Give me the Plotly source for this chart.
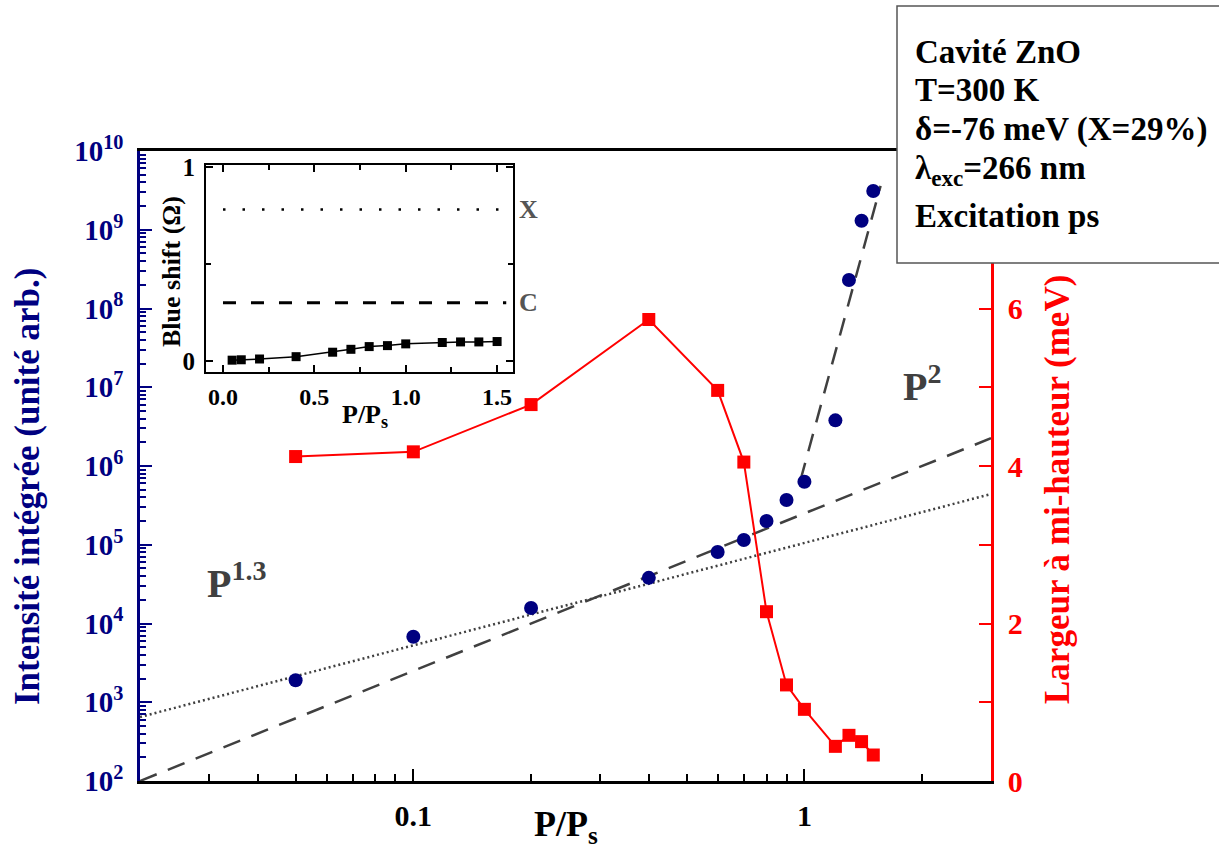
import math
import plotly.graph_objects as go

# ---------------- data ----------------
p_ratio = [0.05, 0.1, 0.2, 0.4, 0.6, 0.7, 0.8, 0.9, 1.0, 1.2, 1.3, 1.4, 1.5]
intensity = [1.9e3, 6.8e3, 1.57e4, 3.8e4, 8.1e4, 1.15e5, 2.0e5, 3.7e5, 6.3e5,
             3.8e6, 2.3e8, 1.3e9, 3.1e9]
fwhm_meV = [4.12, 4.18, 4.78, 5.86, 4.96, 4.05, 2.15, 1.22, 0.91, 0.44, 0.58, 0.50, 0.33]
blue_shift = [0.004, 0.006, 0.01, 0.022, 0.045, 0.06, 0.074, 0.079, 0.088,
              0.095, 0.098, 0.098, 0.1]

# guide lines (power laws) endpoints
fit_p2_x = [0.02, 3.0]
fit_p2_y = [1.0e2, 2.25e6]
fit_p13_x = [0.02, 3.0]
fit_p13_y = [6.5e2, 4.4e5]
fit_thr_x = [0.977, 1.566]
fit_thr_y = [6.6e5, 3.6e9]

# inset reference levels
level_x = [0.0, 1.55]
exciton_level = [0.78, 0.78]
cavity_level = [0.30, 0.30]

# tick labels
y_decades = [2, 3, 4, 5, 6, 7, 8, 9, 10]
x_major = [0.1, 1]
x_major_text = ["0.1", "1"]
y2_major = [0, 2, 4, 6]
y2_minor = [1, 3, 5, 7]

FONT = "Liberation Serif"
NAVY = "#000080"
RED = "#ff0000"
GRAY = "#404040"

fig = go.Figure()

# guide lines
fig.add_trace(go.Scatter(x=fit_p13_x, y=fit_p13_y, mode="lines",
                         line=dict(color=GRAY, width=2.5, dash="2px,3px"),
                         xaxis="x", yaxis="y", showlegend=False))
fig.add_trace(go.Scatter(x=fit_p2_x, y=fit_p2_y, mode="lines",
                         line=dict(color=GRAY, width=2.5, dash="18px,12px"),
                         xaxis="x", yaxis="y", showlegend=False))
fig.add_trace(go.Scatter(x=fit_thr_x, y=fit_thr_y, mode="lines",
                         line=dict(color=GRAY, width=2.5, dash="18px,12px"),
                         xaxis="x", yaxis="y", showlegend=False))
# intensity
fig.add_trace(go.Scatter(x=p_ratio, y=intensity, mode="markers",
                         marker=dict(color=NAVY, size=14, symbol="circle"),
                         xaxis="x", yaxis="y", showlegend=False))
# FWHM
fig.add_trace(go.Scatter(x=p_ratio, y=fwhm_meV, mode="lines+markers",
                         line=dict(color=RED, width=2),
                         marker=dict(color=RED, size=13, symbol="square"),
                         xaxis="x", yaxis="y2", showlegend=False))

# inset
fig.add_trace(go.Scatter(x=level_x, y=exciton_level, mode="lines",
                         line=dict(color="black", width=2.5, dash="2.5px,17px"),
                         xaxis="x3", yaxis="y3", showlegend=False))
fig.add_trace(go.Scatter(x=level_x, y=cavity_level, mode="lines",
                         line=dict(color="black", width=3, dash="13px,15px"),
                         xaxis="x3", yaxis="y3", showlegend=False))
fig.add_trace(go.Scatter(x=p_ratio, y=blue_shift, mode="lines+markers",
                         line=dict(color="black", width=1.5),
                         marker=dict(color="black", size=9, symbol="square"),
                         xaxis="x3", yaxis="y3", showlegend=False))

W, H = 1219, 856
L, R, T, B = 140, 991, 151, 781


def px(xp):
    return (xp - L) / (R - L)


def py(yp):
    return (B - yp) / (B - T)


def log_minor(lo, hi):
    vals = []
    for d in range(lo, hi):
        for k in range(2, 10):
            vals.append(k * 10 ** d)
    return vals


x_minor = [v for v in log_minor(-2, 1) if 0.02 < v < 3.0] + [3.0]

fig.update_layout(
    width=W, height=H,
    margin=dict(l=L, r=W - R, t=T, b=H - B, autoexpand=False),
    paper_bgcolor="white", plot_bgcolor="white",
    font=dict(family=FONT, size=28, color="black", weight="bold"),
    showlegend=False,
    xaxis=dict(
        type="log", range=[math.log10(0.02), math.log10(3.0)], automargin=False,
        tickmode="array", tickvals=x_major, ticktext=x_major_text,
        ticks="inside", ticklen=12, tickwidth=2, tickcolor="black",
        showline=True, linecolor="black", linewidth=2.5, mirror=True,
        showgrid=False, zeroline=False,
        tickfont=dict(family=FONT, size=30, color="black", weight="bold"),
        ticklabelstandoff=6,
        minor=dict(tickmode="array", tickvals=x_minor, ticks="inside",
                   ticklen=7, tickwidth=2, tickcolor="black", showgrid=False),
    ),
    yaxis=dict(
        type="log", range=[2, 10], automargin=False,
        tickmode="array", tickvals=[10 ** d for d in y_decades],
        ticktext=["10<sup>%d</sup>" % d for d in y_decades],
        ticks="inside", ticklen=12, tickwidth=2, tickcolor=NAVY,
        showline=True, linecolor=NAVY, linewidth=2.5, mirror=False,
        showgrid=False, zeroline=False,
        tickfont=dict(family=FONT, size=29, color=NAVY, weight="bold"),
        ticklabelstandoff=8,
        minor=dict(tickmode="array", tickvals=log_minor(2, 10), ticks="inside",
                   ticklen=6, tickwidth=1.5, tickcolor=NAVY, showgrid=False),
    ),
    yaxis2=dict(
        overlaying="y", side="right", anchor="x", range=[0, 8], automargin=False,
        tickmode="array", tickvals=y2_major, ticktext=[str(v) for v in y2_major],
        ticks="inside", ticklen=12, tickwidth=2, tickcolor=RED,
        showline=True, linecolor=RED, linewidth=2.5,
        showgrid=False, zeroline=False,
        tickfont=dict(family=FONT, size=30, color=RED, weight="bold"),
        ticklabelstandoff=8,
        minor=dict(tickmode="array", tickvals=y2_minor, ticks="inside",
                   ticklen=12, tickwidth=2, tickcolor=RED, showgrid=False),
    ),
    xaxis3=dict(
        domain=[px(206), px(513)], anchor="y3", range=[-0.093, 1.587], automargin=False,
        tickmode="array", tickvals=[0, 0.5, 1.0, 1.5],
        ticktext=["0.0", "0.5", "1.0", "1.5"],
        ticks="inside", ticklen=7, tickwidth=1.5, tickcolor="black",
        showline=True, linecolor="black", linewidth=2, mirror="allticks",
        showgrid=False, zeroline=False,
        tickfont=dict(family=FONT, size=24, color="black", weight="bold"),
        ticklabelstandoff=2,
        minor=dict(tickmode="array", tickvals=[0.25, 0.75, 1.25], ticks="inside",
                   ticklen=5, tickwidth=1.5, tickcolor="black", showgrid=False),
    ),
    yaxis3=dict(
        domain=[py(372), py(165)], anchor="x3", range=[-0.057, 1.01], automargin=False,
        tickmode="array", tickvals=[0, 1], ticktext=["0", "1"],
        ticks="inside", ticklen=7, tickwidth=1.5, tickcolor="black",
        showline=True, linecolor="black", linewidth=2, mirror="allticks",
        showgrid=False, zeroline=False,
        tickfont=dict(family=FONT, size=25, color="black", weight="bold"),
        ticklabelstandoff=4,
        minor=dict(tickmode="array", tickvals=[0.5], ticks="inside",
                   ticklen=5, tickwidth=1.5, tickcolor="black", showgrid=False),
    ),
)

# info box
fig.add_shape(type="rect", xref="paper", yref="paper",
              x0=px(897), x1=px(1230), y0=py(263), y1=py(6),
              fillcolor="white", line=dict(color="#555555", width=1.5),
              layer="above")

box_lines = ["Cavité ZnO", "T=300 K", "δ=-76 meV (X=29%)",
             "λ<sub>exc</sub>=266 nm", "Excitation ps"]
box_centers = [52, 90, 130, 170, 216]
for txt, yc in zip(box_lines, box_centers):
    fig.add_annotation(text=txt, xref="paper", yref="paper",
                       x=px(913), y=py(yc), xanchor="left", yanchor="middle",
                       showarrow=False,
                       font=dict(family=FONT, size=33, color="black", weight="bold"))

# axis titles
fig.add_annotation(text="Intensité intégrée (unité arb.)", xref="paper", yref="paper",
                   x=px(27), y=py(487), textangle=-90, showarrow=False,
                   xanchor="center", yanchor="middle",
                   font=dict(family=FONT, size=35, color=NAVY, weight="bold"))
fig.add_annotation(text="Largeur à mi-hauteur (meV)", xref="paper", yref="paper",
                   x=px(1057), y=py(490), textangle=-90, showarrow=False,
                   xanchor="center", yanchor="middle",
                   font=dict(family=FONT, size=35, color=RED, weight="bold"))
fig.add_annotation(text="P/P<sub>s</sub>", xref="paper", yref="paper",
                   x=px(566), y=py(826), showarrow=False,
                   xanchor="center", yanchor="middle",
                   font=dict(family=FONT, size=36, color="black", weight="bold"))

# power-law labels
fig.add_annotation(text="P<sup>1.3</sup>", xref="x", yref="y",
                   x=math.log10(0.0352), y=4.55, showarrow=False,
                   font=dict(family=FONT, size=40, color=GRAY, weight="bold"))
fig.add_annotation(text="P<sup>2</sup>", xref="x", yref="y",
                   x=math.log10(2.0), y=7.05, showarrow=False,
                   font=dict(family=FONT, size=40, color=GRAY, weight="bold"))

# inset titles and labels
fig.add_annotation(text="Blue shift (Ω)", xref="paper", yref="paper",
                   x=px(171), y=py(272), textangle=-90, showarrow=False,
                   xanchor="center", yanchor="middle",
                   font=dict(family=FONT, size=26, color="black", weight="bold"))
fig.add_annotation(text="P/P<sub>s</sub>", xref="paper", yref="paper",
                   x=px(365), y=py(416), showarrow=False,
                   xanchor="center", yanchor="middle",
                   font=dict(family=FONT, size=26, color="black", weight="bold"))
fig.add_annotation(text="X", xref="paper", yref="y3",
                   x=px(528), y=exciton_level[0], showarrow=False,
                   xanchor="center", yanchor="middle",
                   font=dict(family=FONT, size=26, color="#555555", weight="bold"))
fig.add_annotation(text="C", xref="paper", yref="y3",
                   x=px(528), y=cavity_level[0], showarrow=False,
                   xanchor="center", yanchor="middle",
                   font=dict(family=FONT, size=26, color="#555555", weight="bold"))

fig.write_html("out.html", config={"displayModeBar": False},
               post_script="document.body.style.margin='0px';")
